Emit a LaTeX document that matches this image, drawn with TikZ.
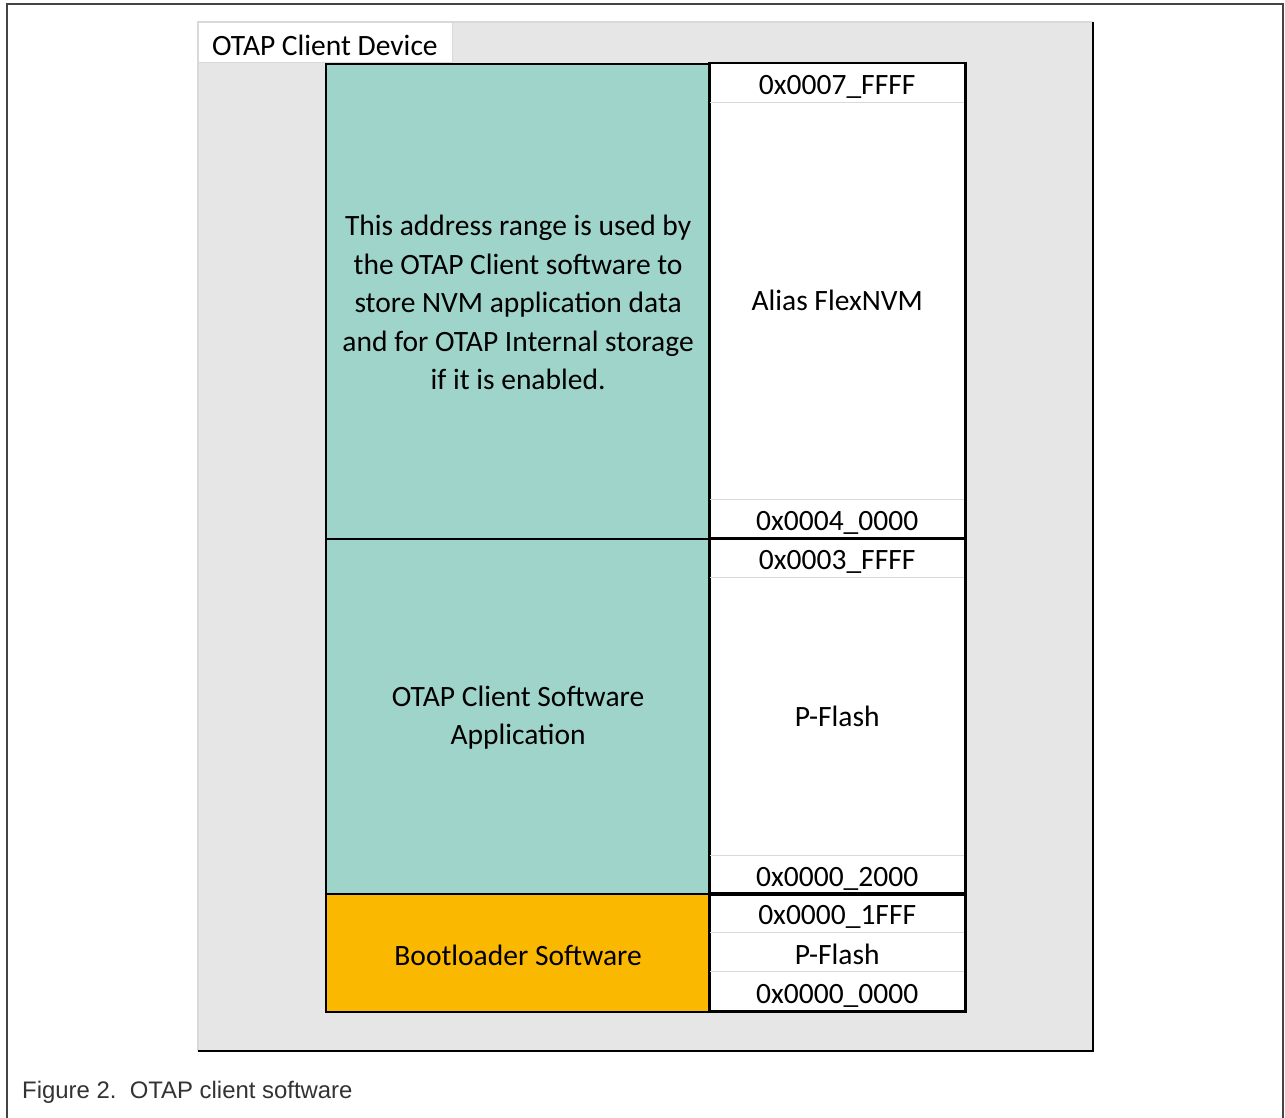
\documentclass[tikz,border=0pt]{standalone}
\usepackage{fontspec}
\setmainfont{Carlito}
\newfontfamily\capfont{Liberation Sans}
\definecolor{tealc}{HTML}{9FD4CB}
\definecolor{goldc}{HTML}{FBB800}
\definecolor{panelc}{HTML}{E6E6E6}
\definecolor{framec}{HTML}{444444}
\definecolor{sepc}{HTML}{D9D9D9}
\definecolor{capc}{HTML}{333333}
\begin{document}
\begin{tikzpicture}[x=1pt,y=-1pt,
  cellfont/.style={font=\fontsize{29.5}{38.6}\selectfont},
  leftcell/.style={draw=black, line width=2.2pt, anchor=north west, inner sep=0pt,
    minimum width=384pt},
  celltext/.style={align=center, cellfont, inner sep=0pt},
  addrcell/.style={anchor=north west, inner sep=0pt, minimum width=256pt,
    minimum height=39pt},
  bigcell/.style={anchor=north west, inner sep=0pt, minimum width=256pt},
  sep/.style={draw=sepc, line width=1.2pt},
  sect/.style={draw=black, line width=2.2pt}
]
\useasboundingbox (0,0) rectangle (1285,1118);
\fill[white] (0,0) rectangle (1285,1118);
% outer frame
\draw[framec, line width=2.5pt] (7,1118) -- (7,4) -- (1283,4) -- (1283,1118);
% panel
\fill[panelc] (198,22) rectangle (1093,1051);
\draw[sepc, line width=1.2pt] (198,1051) -- (198,22) -- (1093,22);
\draw[black, line width=2.5pt] (1093,22) -- (1093,1051) -- (198,1051);
% tab
\node[fill=white, draw=sepc, line width=1pt, anchor=north west, minimum width=254pt,
  minimum height=40pt, inner sep=0pt] (tab) at (198,22) {};
\node[anchor=west, cellfont, inner sep=0pt] (tabtext) at (212,45) {OTAP Client Device};
% right column backgrounds
\fill[white] (709,63) rectangle (965,1011);
% left cells
\node[leftcell, fill=tealc, minimum height=475pt] (nvm) at (325,63) {};
\node[leftcell, fill=tealc, minimum height=355pt] (app) at (325,538) {};
\node[leftcell, fill=goldc, minimum height=118pt] (boot) at (325,893) {};
\node[celltext] (nvmtext) at ([yshift=-1pt]nvm.center)
  {This address range is used by\\the OTAP Client software to\\store NVM application data\\and for OTAP Internal storage\\if it is enabled.};
\node[celltext] (apptext) at ([yshift=-1pt]app.center) {OTAP Client Software\\Application};
\node[celltext] (boottext) at ([yshift=-2pt]boot.center) {Bootloader Software};
% right cells
\node[addrcell] (a1) at (709,63) {};
\node[bigcell, minimum height=397pt] (a2) at (709,102) {};
\node[addrcell] (a3) at (709,499) {};
\node[addrcell] (b1) at (709,538) {};
\node[bigcell, minimum height=278pt] (b2) at (709,577) {};
\node[addrcell] (b3) at (709,855) {};
\node[addrcell] (c1) at (709,893) {};
\node[addrcell] (c2) at (709,932) {};
\node[addrcell] (c3) at (709,972) {};
\node[celltext] (ta1) at ([yshift=-4pt]a1.center) {0x0007\_FFFF};
\node[celltext] (ta2) at (a2.center) {Alias FlexNVM};
\node[celltext] (ta3) at ([yshift=-4pt]a3.center) {0x0004\_0000};
\node[celltext] (tb1) at ([yshift=-4pt]b1.center) {0x0003\_FFFF};
\node[celltext] (tb2) at (b2.center) {P-Flash};
\node[celltext] (tb3) at ([yshift=-4pt]b3.center) {0x0000\_2000};
\node[celltext] (tc1) at ([yshift=-4pt]c1.center) {0x0000\_1FFF};
\node[celltext] (tc2) at ([yshift=-3pt]c2.center) {P-Flash};
\node[celltext] (tc3) at ([yshift=-4pt]c3.center) {0x0000\_0000};
% separators
\draw[sep] (a1.south west) -- (a1.south east);
\draw[sep] (a2.south west) -- (a2.south east);
\draw[sep] (b1.south west) -- (b1.south east);
\draw[sep] (b2.south west) -- (b2.south east);
\draw[sep] (c1.south west) -- (c1.south east);
\draw[sep] (c2.south west) -- (c2.south east);
% section borders
\draw[sect] (a1.north west) rectangle (a3.south east);
\draw[sect] (b1.north west) rectangle (b3.south east);
\draw[sect] (c1.north west) rectangle (c3.south east);
% caption
\node[anchor=base west, inner sep=0pt, font=\capfont\fontsize{23.9}{28}\selectfont, text=capc]
  (cap) at (22,1098) {Figure 2.\ \ OTAP client software};
\end{tikzpicture}
\end{document}
